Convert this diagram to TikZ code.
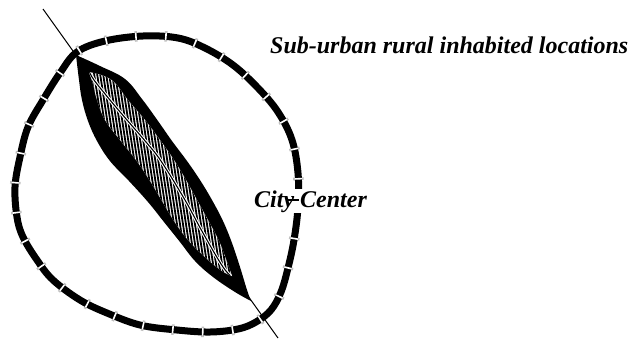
\documentclass[tikz,border=0pt]{standalone}
\usepackage{fontspec}
\setmainfont{Liberation Serif}
\begin{document}
\begin{tikzpicture}[x=1pt,y=-1pt,
  bandline/.style={line width=7pt,black},
  tickgray/.style={line width=10.5pt,gray!50,dash pattern=on 2.6pt off 27.4pt},
  tickwhite/.style={line width=7.5pt,white,dash pattern=on 1.6pt off 28.4pt,dash phase=29.5pt},
  axisline/.style={line width=1pt,black},
  hatchline/.style={line width=1.8pt,black},
  lbl/.style={font=\fontsize{24}{28}\selectfont\bfseries\itshape,inner sep=0pt,text=black}]
\useasboundingbox[fill=white] (0,0) rectangle (634,341);

% outer dashed loop (sub-urban ring)
\def\looppath{plot[smooth cycle,tension=0.6] coordinates {(77,52) (105,41) (143,36) (178,38) (205,48) (233,65) (258,88) (278,112) (292,140) (298,173) (298,207) (294,240) (288,268) (281,292) (271,310) (256,322) (238,329) (210,332) (177,330) (140,325) (107,313) (80,300) (53,280) (37,260) (23,237) (17,217) (15,187) (20,157) (28,127) (43,100) (60,73)}}
\draw[tickgray] \looppath;
\draw[bandline] \looppath;
\draw[tickwhite] \looppath;

% diagonal axis
\coordinate (axA) at (43,9);
\coordinate (axB) at (278,338);
\draw[axisline] (axA) -- (axB);

% leaf outer (black)
\fill[black] plot[smooth,tension=0.65] coordinates {(76,55) (100,66) (125,79) (142,99) (158,121) (172,141) (187,161) (200,180) (212,200) (223,221) (232,243) (240,267) (247,290) (251,301)}
  -- plot[smooth,tension=0.65] coordinates {(251,301) (235,292) (213,277) (195,261) (180,242) (164,222) (148,202) (129,181) (110,161) (97,141) (88,121) (82,100) (79,80) (76,55)} -- cycle;

% hatched centre
\def\hatchpath{plot[smooth,tension=0.65] coordinates {(89,72) (104,76) (115,83) (128,100) (145,120) (160,140) (174,160) (186,180) (197,200) (208,220) (219,241) (227,262) (232,276)}
  -- plot[smooth,tension=0.65] coordinates {(232,276) (222,271) (207,259) (188,240) (174,221) (162,201) (150,181) (136,160) (120,140) (105,120) (97,100) (93,84) (89,72)} -- cycle}
\fill[white] \hatchpath;
\begin{scope}
  \clip \hatchpath;
  \foreach \x in {50,53,...,245} {
    \draw[hatchline] (\x,60) -- ++(35,230);
  }
  \draw[white,line width=3.2pt] plot[smooth,tension=0.6] coordinates {(89,71) (94,80) (110,100) (127,120) (146,142) (161,161) (185,200) (203,233) (223,267) (234,279)};
  \draw[black,line width=1.1pt] plot[smooth,tension=0.6] coordinates {(89,71) (94,80) (110,100) (127,120) (146,142) (161,161) (185,200) (203,233) (223,267) (234,279)};
\end{scope}

% labels
\node[lbl,anchor=base west] (sub) at (270,53) {Sub-urban rural inhabited locations};
\node[lbl,anchor=base west,fill=white,inner sep=1pt] (city) at (253,207) {City Center};
\coordinate (tA) at (287,200);
\coordinate (tB) at (299,200);
\draw[line width=2.2pt] (tA) -- (tB);
\end{tikzpicture}
\end{document}
